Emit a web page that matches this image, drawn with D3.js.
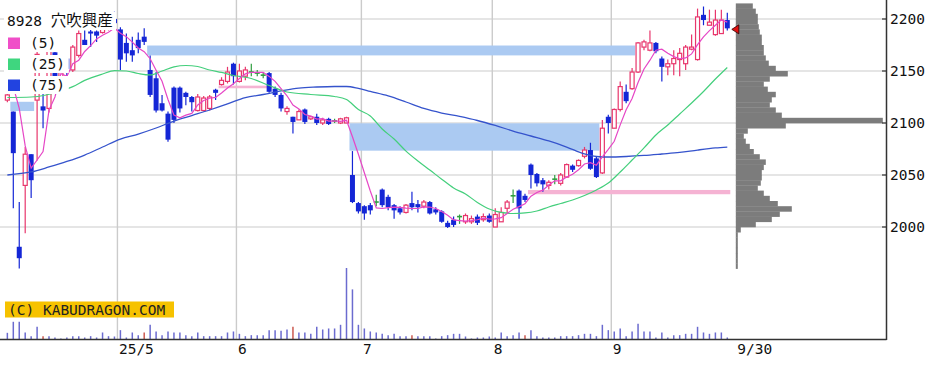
<!DOCTYPE html>
<html><head><meta charset="utf-8">
<script src="https://cdn.jsdelivr.net/npm/d3@7"></script>
<style>html,body{margin:0;padding:0;background:#fff;overflow:hidden}</style>
</head><body><svg id="chart" width="944" height="368"></svg>
<script>
// ---- data (one entry per trading day, Apr 2025 -> 30 Sep 2025) ----
const opens = [2122,2111,1981,2040,2070,2122,2116,2114,2168,2140,
2162,2151,2165,2180,2188,2188,2187,2191,2200,2190,
2177,2170,2180,2183,2151,2143,2119,2109,2134,2134,
2129,2125,2112,2112,2114,2132,2137,2140,2157,2140,
2145,2149,2148,2146,2148,2133,2127,2111,2106,2103,
2113,2104,2106,2100,2104,2102,2100,2100,2050,2023,
2020,2021,2024,2036,2029,2021,2018,2014,2023,2022,
2020,2024,2017,2015,2004,2007,2010,2005,2005,2010,
2007,2011,2000,2005,2018,2030,2035,2030,2060,2051,
2045,2040,2046,2042,2048,2059,2059,2068,2074,2066,
2052,2106,2095,2113,2130,2133,2149,2173,2170,2177,
2162,2154,2157,2161,2157,2171,2161,2204,2194,2185,
2186,2199];
const highs = [2133,2111,2024,2077,2070,2170,2135,2172,2172,2162,
2165,2175,2189,2189,2191,2189,2195,2204,2207,2192,
2186,2183,2187,2191,2165,2149,2127,2111,2135,2135,
2130,2126,2128,2126,2127,2133,2144,2154,2158,2157,
2154,2157,2151,2149,2149,2135,2129,2116,2106,2113,
2114,2107,2109,2105,2105,2104,2105,2106,2073,2024,
2021,2023,2031,2037,2031,2022,2020,2022,2034,2026,
2026,2025,2019,2016,2006,2010,2012,2013,2011,2012,
2013,2013,2018,2019,2026,2036,2036,2032,2061,2052,
2047,2045,2050,2052,2061,2060,2065,2077,2081,2068,
2103,2108,2114,2140,2137,2153,2178,2180,2189,2178,
2164,2161,2170,2172,2175,2185,2210,2212,2209,2209,
2209,2206];
const lows = [2120,2018,1960,1994,2028,2064,2095,2110,2128,2135,
2144,2149,2163,2175,2173,2178,2186,2189,2192,2151,
2159,2159,2167,2175,2125,2110,2111,2082,2100,2110,
2117,2111,2111,2111,2112,2122,2136,2138,2137,2139,
2141,2145,2145,2143,2129,2125,2111,2108,2090,2103,
2099,2103,2098,2098,2098,2100,2099,2100,2023,2013,
2007,2012,2020,2019,2016,2008,2012,2013,2016,2014,
2018,2012,2012,2004,1999,2000,2003,2003,2003,2002,
2005,2004,2000,2005,2013,2023,2008,2024,2037,2039,
2034,2036,2041,2040,2047,2053,2058,2066,2055,2047,
2051,2090,2095,2111,2119,2132,2148,2170,2169,2167,
2140,2146,2146,2145,2151,2170,2160,2194,2194,2184,
2186,2189];
const closes = [2127,2071,1970,2070,2045,2166,2112,2169,2133,2158,
2152,2173,2186,2175,2186,2184,2191,2200,2196,2161,
2167,2165,2172,2178,2127,2112,2112,2084,2103,2114,
2125,2120,2125,2124,2125,2129,2141,2149,2145,2150,
2151,2149,2148,2146,2130,2127,2114,2114,2101,2111,
2101,2106,2100,2103,2099,2102,2104,2105,2024,2015,
2013,2016,2024,2021,2019,2016,2014,2021,2019,2019,
2024,2013,2014,2005,2000,2002,2010,2011,2008,2004,
2010,2005,2012,2014,2024,2030,2018,2026,2050,2042,
2041,2043,2046,2050,2060,2055,2064,2074,2056,2048,
2095,2100,2113,2135,2121,2149,2177,2178,2177,2169,
2154,2157,2162,2167,2173,2173,2202,2199,2197,2199,
2199,2191];
const volumes = [20,53,53,21,10,38,10,10,6,3,
6,10,10,6,10,6,21,10,9,28,
6,21,13,21,44,24,13,24,21,21,
13,10,21,10,10,10,10,21,24,17,
10,13,13,13,28,28,26,30,38,21,
21,17,38,30,33,33,44,214,150,44,
33,24,21,17,13,17,10,10,13,10,
10,10,3,10,13,17,17,9,3,6,
6,9,6,21,10,13,21,13,28,10,
6,6,6,10,10,10,13,17,17,10,
44,28,24,33,10,24,47,24,24,6,
21,6,13,13,17,17,38,21,17,21,
21,6];
const redVolumeDays = [6,23,48,68,87];

// moving averages (day index, price)
const ma5LeadValues = [2140,2135,2114,2078];
const ma25Days = [0,4,9,11,13,16,18,20,22,24,26,28,30,32,34,36,38,41,44,47,51,55,57,59,61,63,65,67,69,71,73,75,77,79,81,83,85,87,89,91,93,95,97,99,101,103,105,107,109,111,113,115,117,119,121];
const ma25Values = [2124.5,2125,2130.8,2135,2141,2147.1,2150.3,2150,2147.6,2146.2,2150,2153.9,2155.3,2154.3,2151,2148.6,2145.7,2142.8,2136,2129.8,2127.4,2125.5,2122.6,2113,2106.7,2094.2,2084.6,2073,2063.5,2054.8,2046,2037.5,2031.7,2023.6,2017.3,2014,2013,2013.5,2015.4,2019.2,2022.6,2026,2030.3,2035.6,2042.3,2052.9,2064.4,2076,2088.5,2098.1,2108.7,2119.2,2130.3,2142.3,2153.4];
const ma75Days = [0,4,7,10,13,16,19,22,25,28,31,34,37,40,43,46,49,52,55,57,59,61,64,67,70,73,76,79,82,85,88,91,94,97,99,101,104,107,110,113,116,119,121];
const ma75Values = [2050,2052.9,2057.7,2063,2069.2,2076.9,2084.6,2089.4,2095.2,2101.9,2107.2,2112.5,2118.3,2124.5,2127.4,2130.8,2133.6,2134.6,2135.1,2135.1,2133.2,2130.3,2126,2120.2,2114,2109.6,2106.3,2102.4,2097.6,2092.3,2087.5,2082.7,2076.9,2070.2,2067.8,2067.3,2067.8,2068.8,2070.2,2071.7,2074,2076,2076.9];

// unfilled price gaps (windows)
const downGapFrom = [1,24,58], downGapTo = [4,105,99];
const downGapHigh = [2120.4,2174.5,2099.7], downGapLow = [2111.5,2165,2073.4];
const upGapFrom = [36,88], upGapTo = [44,121];
const upGapHigh = [2135.9,2035.6], upGapLow = [2133.4,2031.5];

// volume-by-price profile (5-yen bins, lower bound)
const profileLevels = [2210,2205,2200,2195,2190,2185,2180,2175,2170,2165,2160,2155,2150,2145,2140,2135,2130,2125,2120,2115,2110,2105,2100,2095,2090,2085,2080,2075,2070,2065,2060,2055,2050,2045,2040,2035,2030,2025,2020,2015,2010,2005,2000,1995,1990,1985,1980,1975,1970,1965,1960];
const profileVolumes = [17,20,22,22,23,24,26,26,28,28,30,33,40,52,34,28,32,40,36,34,40,46,147,50,12,8,10,14,18,24,30,28,26,26,25,22,28,34,42,56,44,36,20,5,2,2,2,2,2,2,2];

const priceTicks = [2000,2050,2100,2150,2200];
const monthTickLabels = ["25/5","6","7","8","9"];
const monthTickDays = [19,39,60,82,102];
const lastDateLabel = "9/30";
const titleCode = "8928";
const titleName = "穴吹興産";
const legendLabels = ["(5)","(25)","(75)"];
const copyright = "(C) KABUDRAGON.COM";

// ---- drawing ----
const svg = d3.select("#chart");
const n = closes.length;
const x = d3.scaleLinear().domain([0, 1]).range([7.35, 13.30]);
const slot = x(1) - x(0);
const y = d3.scaleLinear().domain([2000, 2200]).range([227, 19]);
const yVol = d3.scaleLinear().domain([0, 214]).range([339.5, 268]);
const profW = d3.scaleLinear().domain([0, 150]).range([0, 150]);
const AXIS_X = 886.5, BASE_Y = 339.5;
const MONO = "'DejaVu Sans Mono', 'Liberation Mono', monospace";

const COL = {grid:"#cbcbcb", red:"#e8366c", blue:"#1426d6", green:"#2f9e3f",
  ma5:"#e646c6", ma25:"#44cf7c", ma75:"#3553cc", downGap:"#abcaf2", upGap:"#f5b3d3",
  vol:"#6b6bcf", volRed:"#cc5a50", prof:"#7c7c7c"};

// grid
const grid = svg.append("g");
grid.selectAll("line.h").data(priceTicks).join("line")
  .attr("x1", 0).attr("x2", AXIS_X).attr("y1", d => y(d)).attr("y2", d => y(d))
  .attr("stroke", COL.grid).attr("stroke-width", 1.2);
grid.selectAll("line.v").data(monthTickDays).join("line")
  .attr("x1", d => x(d) - slot/2).attr("x2", d => x(d) - slot/2)
  .attr("y1", 0).attr("y2", BASE_Y).attr("stroke", COL.grid).attr("stroke-width", 1.4);

// gap bands
const bands = svg.append("g");
bands.selectAll("rect.dg").data(d3.range(downGapFrom.length)).join("rect")
  .attr("x", i => x(downGapFrom[i]) - slot/2)
  .attr("width", i => x(downGapTo[i]) - x(downGapFrom[i]) + slot)
  .attr("y", i => y(downGapHigh[i])).attr("height", i => y(downGapLow[i]) - y(downGapHigh[i]))
  .attr("fill", COL.downGap);
bands.selectAll("rect.ug").data(d3.range(upGapFrom.length)).join("rect")
  .attr("x", i => x(upGapFrom[i]) - slot/2)
  .attr("width", i => x(upGapTo[i]) - x(upGapFrom[i]) + slot)
  .attr("y", i => y(upGapHigh[i])).attr("height", i => y(upGapLow[i]) - y(upGapHigh[i]))
  .attr("fill", COL.upGap);

// volume bars
svg.append("g").selectAll("line").data(d3.range(n)).join("line")
  .attr("x1", i => x(i)).attr("x2", i => x(i))
  .attr("y1", BASE_Y).attr("y2", i => yVol(volumes[i]))
  .attr("stroke", i => redVolumeDays.includes(i) ? COL.volRed : COL.vol)
  .attr("stroke-width", 1.5);

// candles
const cg = svg.append("g");
d3.range(n).forEach(i => {
  const o = opens[i], c = closes[i];
  const col = c > o ? COL.red : (c < o ? COL.blue : COL.green);
  cg.append("line").attr("x1", x(i)).attr("x2", x(i))
    .attr("y1", y(highs[i])).attr("y2", y(lows[i]))
    .attr("stroke", col).attr("stroke-width", 1.2);
  if (c > o) {
    cg.append("rect").attr("x", x(i) - 2).attr("width", 4)
      .attr("y", y(c)).attr("height", Math.max(1, y(o) - y(c)))
      .attr("fill", "#fff").attr("stroke", col).attr("stroke-width", 1.2);
  } else if (c < o) {
    cg.append("rect").attr("x", x(i) - 2.5).attr("width", 5)
      .attr("y", y(o)).attr("height", Math.max(1.2, y(c) - y(o)))
      .attr("fill", col);
  } else {
    cg.append("line").attr("x1", x(i) - 2.5).attr("x2", x(i) + 2.5)
      .attr("y1", y(o)).attr("y2", y(o)).attr("stroke", col).attr("stroke-width", 1.6);
  }
});

// moving averages
const ma5 = closes.map((c, i) => i < 4 ? ma5LeadValues[i] : d3.mean(closes.slice(i - 4, i + 1)));
const line = d3.line().x(d => x(d[0])).y(d => y(d[1]));
const lineSmooth = d3.line().x(d => x(d[0])).y(d => y(d[1])).curve(d3.curveMonotoneX);
svg.append("path").attr("d", lineSmooth(ma75Days.map((d, i) => [d, ma75Values[i]])))
  .attr("fill", "none").attr("stroke", COL.ma75).attr("stroke-width", 1.3);
svg.append("path").attr("d", lineSmooth(ma25Days.map((d, i) => [d, ma25Values[i]])))
  .attr("fill", "none").attr("stroke", COL.ma25).attr("stroke-width", 1.2);
svg.append("path").attr("d", line(ma5.map((v, i) => [i, v])))
  .attr("fill", "none").attr("stroke", COL.ma5).attr("stroke-width", 1.2);

// volume-by-price profile
const profLeft = x(n - 1) + 8.5;
svg.append("g").selectAll("rect").data(d3.range(profileLevels.length)).join("rect")
  .attr("x", profLeft)
  .attr("y", i => y(profileLevels[i] + 5))
  .attr("height", i => y(profileLevels[i]) - y(profileLevels[i] + 5) + 0.3)
  .attr("width", i => profW(profileVolumes[i]))
  .attr("fill", COL.prof);

// last price marker
const yc = y(closes[n - 1]) + 1, tipX = x(n - 1) + 4.5;
svg.append("path").attr("d", `M${tipX},${yc} L${tipX + 7},${yc - 4.5} L${tipX + 7},${yc + 4.5} Z`)
  .attr("fill", "#e01010").attr("stroke", "#300").attr("stroke-width", 0.8);

// frame / axis
svg.append("line").attr("x1", AXIS_X).attr("x2", AXIS_X).attr("y1", 0).attr("y2", BASE_Y + 0.5)
  .attr("stroke", "#333").attr("stroke-width", 1.5);
svg.append("line").attr("x1", 0).attr("x2", AXIS_X).attr("y1", BASE_Y).attr("y2", BASE_Y)
  .attr("stroke", "#333").attr("stroke-width", 1.5);
const ax = svg.append("g");
ax.selectAll("line").data(priceTicks).join("line")
  .attr("x1", AXIS_X - 4.5).attr("x2", AXIS_X).attr("y1", d => y(d)).attr("y2", d => y(d))
  .attr("stroke", "#333").attr("stroke-width", 1.2);
ax.selectAll("text").data(priceTicks).join("text")
  .attr("x", AXIS_X + 3.5).attr("y", d => y(d) + 5)
  .attr("font-family", MONO).attr("font-size", 14.5).attr("fill", "#111")
  .text(d => d);
const xl = svg.append("g");
xl.selectAll("text").data(monthTickLabels).join("text")
  .attr("x", (d, i) => x(monthTickDays[i]) - slot/2 + 1.5).attr("y", 354)
  .attr("font-family", MONO).attr("font-size", 14.5).attr("fill", "#111")
  .text(d => d);
xl.append("text").attr("x", x(n - 1) + 10).attr("y", 354)
  .attr("font-family", MONO).attr("font-size", 14.5).attr("fill", "#111").text(lastDateLabel);

// copyright box
svg.append("rect").attr("x", 5).attr("y", 301.5).attr("width", 169).attr("height", 16).attr("fill", "#f6c200");
svg.append("text").attr("x", 8).attr("y", 314.5).attr("font-family", MONO).attr("font-size", 14.5)
  .attr("fill", "#222").text(copyright);

// legend
const lg = svg.append("g");
lg.append("rect").attr("x", 4).attr("y", 12).attr("width", 112).attr("height", 18).attr("fill", "#fff");
const t = lg.append("text").attr("x", 7).attr("y", 26).attr("font-family", MONO).attr("font-size", 14.5).attr("fill", "#111");
t.append("tspan").text(titleCode + " ");
t.append("tspan").attr("font-family", "'Noto Sans CJK JP', sans-serif").attr("font-size", 15.5).text(titleName);
const legCols = [COL.ma5, COL.ma25, COL.ma75];
const legSq = ["#f04ec8", "#3fd67f", "#2243e0"];
legendLabels.forEach((lab, i) => {
  const top = 34 + i * 21;
  lg.append("rect").attr("x", 4).attr("y", top).attr("width", lab.length * 8.7 + 30).attr("height", 18).attr("fill", "#fff");
  lg.append("rect").attr("x", 8).attr("y", top + 3.5).attr("width", 12).attr("height", 11.5).attr("fill", legSq[i]);
  lg.append("text").attr("x", 30).attr("y", top + 14).attr("font-family", MONO).attr("font-size", 14.5)
    .attr("fill", "#111").text(lab);
});
</script>
</body></html>
